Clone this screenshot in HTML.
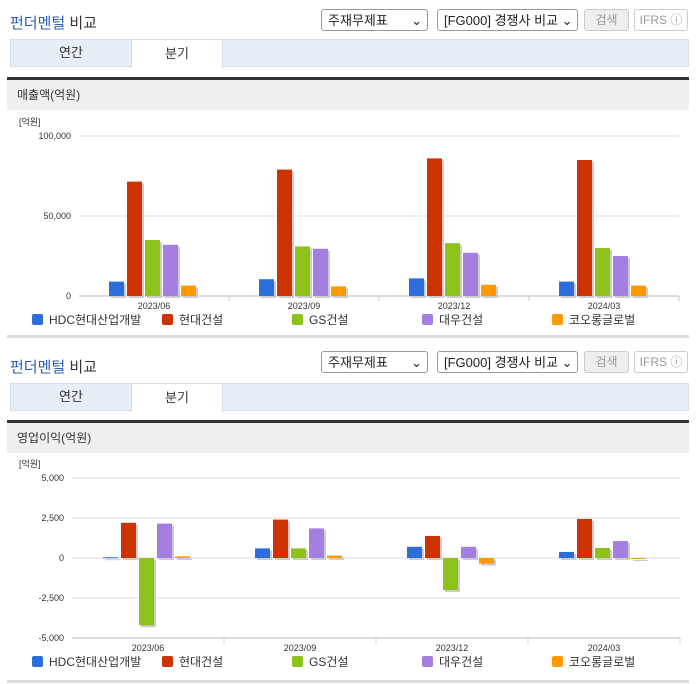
<!DOCTYPE html>
<html><head><meta charset="utf-8">
<style>
body{margin:0;width:696px;height:684px;background:#fff;font-family:"Liberation Sans","Noto Sans CJK KR",sans-serif;position:relative;overflow:hidden}
.abs{position:absolute}
.title{font-size:15px;color:#333;left:10px}
.title b{color:#2d5fb5;font-weight:normal}
.sel{border:1px solid #999;border-radius:3px;background:#fff;font-size:13px;color:#222;height:22px;line-height:22px;padding-left:6px;box-sizing:border-box}
.btn{border:1px solid #ccc;border-radius:3px;background:#eee;color:#999;font-size:12px;text-align:center;height:22px;line-height:20px;box-sizing:border-box}
.tabs{left:10px;width:679px;height:28px;background:#e8eef7;border:1px solid #d6dfe9;box-sizing:border-box}
.tab{top:-1px;height:29px;line-height:28px;text-align:center;font-size:13px;color:#333;position:absolute}
.dark{left:7px;width:682px;height:3px;background:#333}
.hdr{left:7px;width:682px;height:30px;background:#efefef;font-size:12px;color:#333;line-height:30px;padding-left:10px;box-sizing:border-box}
.gline{left:7px;width:682px;height:3px;background:#ddd}
</style></head><body>
<div class="abs title" style="top:12px"><b>펀더멘털</b> 비교</div>
<div class="abs sel" style="left:321px;top:9px;width:107px">주재무제표 <span style="float:right;margin-right:5px">⌄</span></div>
<div class="abs sel" style="left:437px;top:9px;width:141px">[FG000] 경쟁사 비교 ⌄</div>
<div class="abs btn" style="left:584px;top:9px;width:45px">검색</div>
<div class="abs btn" style="left:634px;top:9px;width:54px;background:#fff">IFRS ⓘ</div>
<div class="abs tabs" style="top:39px">
<div class="tab" style="left:0;width:120px">연간</div>
<div class="tab" style="left:120px;width:92px;background:#fff;border:1px solid #d6dfe9;border-bottom:none;box-sizing:border-box">분기</div>
</div>
<div class="abs dark" style="top:77px"></div>
<div class="abs hdr" style="top:80px">매출액(억원)</div>
<svg id="c1" class="abs" style="left:0;top:110px" width="696" height="225"></svg>
<div class="abs gline" style="top:335px"></div>

<div class="abs title" style="top:356px"><b>펀더멘털</b> 비교</div>
<div class="abs sel" style="left:321px;top:351px;width:107px">주재무제표 <span style="float:right;margin-right:5px">⌄</span></div>
<div class="abs sel" style="left:437px;top:351px;width:141px">[FG000] 경쟁사 비교 ⌄</div>
<div class="abs btn" style="left:584px;top:351px;width:45px">검색</div>
<div class="abs btn" style="left:634px;top:351px;width:54px;background:#fff">IFRS ⓘ</div>
<div class="abs tabs" style="top:383px">
<div class="tab" style="left:0;width:120px">연간</div>
<div class="tab" style="left:120px;width:92px;background:#fff;border:1px solid #d6dfe9;border-bottom:none;box-sizing:border-box">분기</div>
</div>
<div class="abs dark" style="top:420px"></div>
<div class="abs hdr" style="top:423px">영업이익(억원)</div>
<svg id="c2" class="abs" style="left:0;top:453px" width="696" height="231"></svg>
<div class="abs gline" style="top:680px"></div>

<script>
const categories=["2023/06","2023/09","2023/12","2024/03"];
const companies=["HDC현대산업개발","현대건설","GS건설","대우건설","코오롱글로벌"];
const colors=["#2a6ddb","#cc3300","#8cc21a","#a57fe0","#ff9900"];
const revHDC=[9000,10500,11000,9000];
const revHyundai=[71500,79000,86000,85000];
const revGS=[35000,31000,33000,30000];
const revDaewoo=[32000,29500,27000,25000];
const revKolon=[6500,6000,7000,6500];
const revTicks=[0,50000,100000];
const opHDC=[50,600,700,380];
const opHyundai=[2200,2400,1380,2440];
const opGS=[-4200,600,-2000,630];
const opDaewoo=[2150,1850,700,1060];
const opKolon=[100,150,-350,0];
const opTicks=[-5000,-2500,0,2500,5000];
const NS="http://www.w3.org/2000/svg";
function el(svg,tag,a){const e=document.createElementNS(NS,tag);for(const k in a)e.setAttribute(k,a[k]);svg.appendChild(e);return e;}
function draw(id,series,ticks,cfg){
 const svg=document.getElementById(id);
 const mn=ticks[0],mx=ticks[ticks.length-1];
 const y=v=>cfg.yb-(v-mn)/(mx-mn)*(cfg.yb-cfg.yt);
 const cw=(cfg.x1-cfg.x0)/categories.length;
 const xc=i=>cfg.x0+cw*(i+0.5);
 let t=el(svg,'text',{x:19,y:cfg.yt-11,'font-size':9,fill:'#333'});t.textContent='[억원]';
 
 
 ticks.forEach(v=>{
  const g=el(svg,'line',{x1:cfg.x0,x2:cfg.x1,y1:y(v),y2:y(v),stroke:v==mn?'#bbb':'#ddd'});
  
  
  const l=el(svg,'text',{x:cfg.x0-8,y:y(v)+3,'font-size':9,fill:'#333','text-anchor':'end'});
  l.textContent=v.toLocaleString('en-US');
  
  
 });
 for(let i=1;i<=categories.length;i++){el(svg,'line',{x1:cfg.x0+cw*i,x2:cfg.x0+cw*i,y1:cfg.yb,y2:cfg.yb+5,stroke:'#ccc'});}
 const z=y(Math.max(0,mn));
 categories.forEach((c,i)=>{
  series.forEach((s,j)=>{
   const x=xc(i)-45+j*18, v=s[i], top=Math.min(y(v),z), h=Math.max(Math.abs(y(v)-z),1);
   el(svg,'rect',{x:x+2,y:top+2,width:15,height:h,fill:'#ccc'});
   const b=el(svg,'rect',{x:x,y:top,width:15,height:h,fill:colors[j]});
   
   
  });
  const l=el(svg,'text',{x:xc(i),y:cfg.yb+13,'font-size':9,fill:'#333','text-anchor':'middle'});
  l.textContent=c;
  
  
 });
 companies.forEach((n,j)=>{
  const lx=32+j*130;
  el(svg,'rect',{x:lx,y:cfg.ly-6,width:11,height:11,rx:2,fill:colors[j]});
  const l=el(svg,'text',{x:lx+17,y:cfg.ly+4,'font-size':12,fill:'#333'});
  l.textContent=n;
  
  
 });
}
draw('c1',[revHDC,revHyundai,revGS,revDaewoo,revKolon],revTicks,{x0:79,x1:679,yt:26,yb:186,ly:210});
draw('c2',[opHDC,opHyundai,opGS,opDaewoo,opKolon],opTicks,{x0:72,x1:680,yt:25,yb:185,ly:209});
</script>
</body></html>
